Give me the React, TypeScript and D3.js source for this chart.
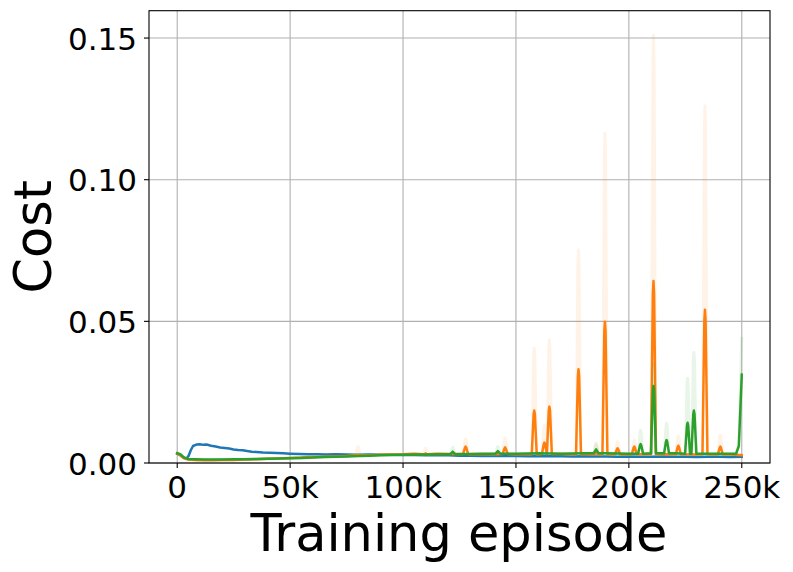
import React from "react";
import * as d3 from "d3";

// Episodes in thousands, cost values
const xTicks = [0, 50, 100, 150, 200, 250];
const xTickLabels = ["0", "50k", "100k", "150k", "200k", "250k"];
const yTicks = [0, 0.05, 0.1, 0.15];
const yTickLabels = ["0.00", "0.05", "0.10", "0.15"];

const blueBase: [number, number][] = [
  [0, 0.0033], [1, 0.003], [2.5, 0.0022], [4, 0.0015], [5, 0.0025], [6, 0.0045], [7, 0.006],
  [8.5, 0.0065], [10, 0.0066], [11.5, 0.0064], [13, 0.0065], [15, 0.0061], [17, 0.0058],
  [19, 0.0055], [21, 0.0053], [23, 0.0051], [25, 0.0048], [27, 0.0046], [29, 0.0045],
  [31, 0.0042], [33, 0.004], [35, 0.0039], [38, 0.0037], [41, 0.0036], [44, 0.0035],
  [47, 0.0034], [50, 0.0033], [54, 0.0032], [58, 0.0031], [62, 0.0031], [66, 0.003],
  [70, 0.0031], [75, 0.003], [80, 0.0029], [85, 0.003], [90, 0.0029], [95, 0.0029],
  [100, 0.0028], [105, 0.0028], [110, 0.0027], [115, 0.0028], [120, 0.0027], [125, 0.0026],
  [130, 0.0026], [135, 0.0025], [140, 0.0026], [145, 0.0025], [150, 0.0025], [155, 0.0024],
  [160, 0.0025], [165, 0.0024], [170, 0.0024], [175, 0.0023], [180, 0.0024], [185, 0.0023],
  [190, 0.0023], [195, 0.0022], [200, 0.0023], [205, 0.0022], [210, 0.0022], [215, 0.0023],
  [220, 0.0022], [225, 0.0022], [230, 0.0021], [235, 0.0022], [240, 0.0022], [245, 0.0021],
  [250, 0.0022],
];

const orangeBase: [number, number][] = [
  [0, 0.0034], [1.5, 0.0026], [3, 0.0017], [5, 0.0012], [8, 0.0011], [12, 0.001], [16, 0.001],
  [20, 0.0011], [25, 0.0011], [30, 0.0012], [35, 0.0013], [40, 0.0015], [45, 0.0016],
  [50, 0.0018], [55, 0.0019], [60, 0.0021], [65, 0.0022], [70, 0.0024], [75, 0.0025],
  [80, 0.0027], [85, 0.0027], [90, 0.0029], [95, 0.003], [100, 0.0031], [105, 0.0033],
  [110, 0.0031], [115, 0.0033], [120, 0.0032], [125, 0.0032], [130, 0.0031], [135, 0.0032],
  [140, 0.0031], [150, 0.0031], [155, 0.0031], [170, 0.0032], [175, 0.0031], [185, 0.0031],
  [200, 0.003], [215, 0.0031], [230, 0.003], [245, 0.003], [250, 0.0028],
];

const greenBase: [number, number][] = [
  [0, 0.0035], [1.5, 0.003], [3, 0.0019], [5, 0.0014], [8, 0.0013], [12, 0.0012], [16, 0.0012],
  [20, 0.0012], [25, 0.0013], [30, 0.0013], [35, 0.0014], [40, 0.0015], [45, 0.0016],
  [50, 0.0017], [55, 0.0018], [60, 0.0019], [65, 0.0021], [70, 0.0022], [75, 0.0023],
  [80, 0.0025], [85, 0.0026], [90, 0.0027], [95, 0.0028], [100, 0.0029], [110, 0.003],
  [120, 0.0031], [130, 0.0032], [140, 0.0033], [150, 0.0033], [160, 0.0034], [170, 0.0033],
  [180, 0.0034], [190, 0.0034], [200, 0.0033], [210, 0.0034], [220, 0.0034], [230, 0.0033],
  [240, 0.0033], [247.5, 0.0033], [248.7, 0.006], [250, 0.0312],
];
const greenRawTail: [number, number][] = [[248.7, 0.008], [250, 0.0445]];

type Spike = { at: number; base: number; peak: number; raw: number };

const orangeSpikes: Spike[] = [
  { at: 80, base: 0.0027, peak: 0.0029, raw: 0.0058 },
  { at: 110, base: 0.0031, peak: 0.0034, raw: 0.0052 },
  { at: 127.7, base: 0.0032, peak: 0.0058, raw: 0.0085 },
  { at: 145.2, base: 0.0032, peak: 0.0055, raw: 0.0088 },
  { at: 158.1, base: 0.0031, peak: 0.0185, raw: 0.0405 },
  { at: 162.6, base: 0.0032, peak: 0.0072, raw: 0.0134 },
  { at: 164.8, base: 0.0032, peak: 0.0199, raw: 0.0434 },
  { at: 177.7, base: 0.0031, peak: 0.0331, raw: 0.0752 },
  { at: 185.5, base: 0.0031, peak: 0.0036, raw: 0.0064 },
  { at: 189.4, base: 0.0031, peak: 0.0499, raw: 0.1163 },
  { at: 195.0, base: 0.0031, peak: 0.0052, raw: 0.0075 },
  { at: 202.4, base: 0.0031, peak: 0.0058, raw: 0.008 },
  { at: 210.9, base: 0.0031, peak: 0.0642, raw: 0.151 },
  { at: 221.9, base: 0.0031, peak: 0.0061, raw: 0.0095 },
  { at: 233.7, base: 0.0031, peak: 0.0541, raw: 0.126 },
  { at: 240.5, base: 0.003, peak: 0.0058, raw: 0.0099 },
];

const greenSpikes: Spike[] = [
  { at: 122, base: 0.0031, peak: 0.004, raw: 0.0055 },
  { at: 142, base: 0.0033, peak: 0.0042, raw: 0.0058 },
  { at: 185.5, base: 0.0034, peak: 0.0048, raw: 0.007 },
  { at: 205.2, base: 0.0033, peak: 0.0067, raw: 0.0116 },
  { at: 210.9, base: 0.0034, peak: 0.0272, raw: 0.035 },
  { at: 216.7, base: 0.0034, peak: 0.0081, raw: 0.014 },
  { at: 226.0, base: 0.0033, peak: 0.0142, raw: 0.0299 },
  { at: 228.8, base: 0.0033, peak: 0.0185, raw: 0.039 },
];

const C_BLUE = "#1f77b4";
const C_ORANGE = "#ff7f0e";
const C_GREEN = "#2ca02c";

function build(base: [number, number][], spikes: Spike[], key: "peak" | "raw", w: number, tail?: [number, number][]) {
  let pts: [number, number][] = base.filter(([k]) => !spikes.some((s) => Math.abs(k - s.at) < w * 1.5));
  if (tail) {
    const start = tail[0][0];
    pts = pts.filter(([k]) => k < start).concat(tail);
  }
  spikes.forEach((s) => {
    pts.push([s.at - w, s.base], [s.at - w * 0.25, s[key] * 0.93], [s.at, s[key]], [s.at + w * 0.25, s[key] * 0.93], [s.at + w, s.base]);
  });
  return pts.sort((a, b) => a[0] - b[0]);
}

const L = 149, R = 770, T = 10.7, B = 463;

export default function App() {
  const x = d3.scaleLinear().domain([-12.5, 262.5]).range([L, R]);
  const y = d3.scaleLinear().domain([0, 0.15965]).range([B, T]);
  const line = d3.line<[number, number]>().x((d) => x(d[0])).y((d) => y(d[1]));
  const font = "DejaVu Sans";

  const series = [
    { color: C_BLUE, solid: blueBase, raw: null as [number, number][] | null },
    { color: C_ORANGE, solid: build(orangeBase, orangeSpikes, "peak", 1.1), raw: build(orangeBase, orangeSpikes, "raw", 1.0) },
    { color: C_GREEN, solid: build(greenBase, greenSpikes, "peak", 1.1), raw: build(greenBase, greenSpikes, "raw", 1.0, greenRawTail) },
  ];

  return (
    <svg width={793} height={572} style={{ position: "absolute", left: 0, top: 0, background: "#fff" }} fontFamily={font}>
      <defs>
        <clipPath id="plot">
          <rect x={L} y={T} width={R - L} height={B - T} />
        </clipPath>
      </defs>
      <rect x={0} y={0} width={793} height={572} fill="#fff" />
      {xTicks.map((t) => (
        <line key={"gx" + t} x1={x(t)} x2={x(t)} y1={T} y2={B} stroke="#b0b0b0" strokeWidth={1.1} />
      ))}
      {yTicks.map((t) => (
        <line key={"gy" + t} x1={L} x2={R} y1={y(t)} y2={y(t)} stroke="#b0b0b0" strokeWidth={1.1} />
      ))}
      <g clipPath="url(#plot)">
        {series.map((s, i) => (
          <g key={i}>
            {s.raw && (
              <path d={line(s.raw) || ""} fill="none" stroke={s.color} strokeOpacity={0.1} strokeWidth={3} strokeLinejoin="round" />
            )}
            <path d={line(s.solid) || ""} fill="none" stroke={s.color} strokeWidth={2.5} strokeLinejoin="round" strokeLinecap="square" />
          </g>
        ))}
      </g>
      <rect x={L} y={T} width={R - L} height={B - T} fill="none" stroke="#000" strokeWidth={1.1} />
      {xTicks.map((t, i) => (
        <g key={"xt" + t}>
          <line x1={x(t)} x2={x(t)} y1={B} y2={B + 5} stroke="#000" strokeWidth={1.1} />
          <text x={x(t)} y={498.3} fontSize={31} textAnchor="middle" fill="#000">
            {xTickLabels[i]}
          </text>
        </g>
      ))}
      {yTicks.map((t, i) => (
        <g key={"yt" + t}>
          <line x1={L - 5} x2={L} y1={y(t)} y2={y(t)} stroke="#000" strokeWidth={1.1} />
          <text x={137} y={y(t) + 11.5} fontSize={31} textAnchor="end" fill="#000">
            {yTickLabels[i]}
          </text>
        </g>
      ))}
      <text x={459} y={551} fontSize={51} textAnchor="middle" fill="#000">
        Training episode
      </text>
      <text transform="translate(50.5,236.8) rotate(-90)" fontSize={51} textAnchor="middle" fill="#000">
        Cost
      </text>
    </svg>
  );
}
